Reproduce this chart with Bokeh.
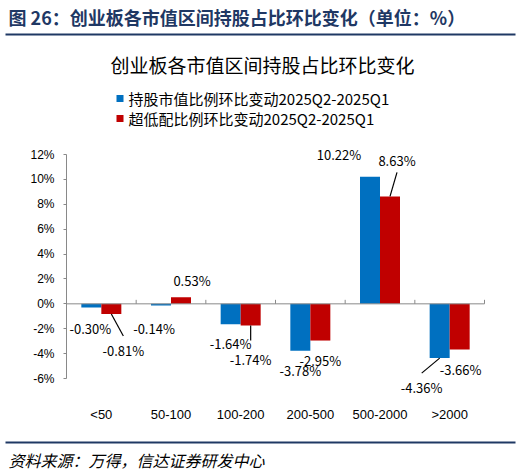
from bokeh.plotting import figure
from bokeh.models import ColumnDataSource, LabelSet, FixedTicker, Range1d
from bokeh.core.properties import value
from bokeh.embed import file_html
from bokeh.resources import INLINE

categories = ["<50", "50-100", "100-200", "200-500", "500-2000", ">2000"]
hold_change = [-0.30, -0.14, -1.64, -3.78, 10.22, -4.36]
under_change = [-0.81, 0.53, -1.74, -2.95, 8.63, -3.66]
y_ticks = [-6, -4, -2, 0, 2, 4, 6, 8, 10, 12]

series_names = ["持股市值比例环比变动2025Q2-2025Q1", "超低配比例环比变动2025Q2-2025Q1"]
header = "图 26：创业板各市值区间持股占比环比变化（单位：%）"
chart_title = "创业板各市值区间持股占比环比变化"
source_note = "资料来源：万得，信达证券研发中心"

BLUE = "#0070C0"
RED = "#C00000"
NAVY = "#1F3864"
GRAY = "#898989"
CJK = "Noto Sans CJK SC"

# canvas and plot-area geometry (pixels)
W, H = 521, 473
AX_L, AX_T, AX_W, AX_H = 66, 154, 418, 224   # x 0..6, y -6..12
PX_X = AX_W / 6
PX_Y = AX_H / 18


def dx(sx):
    return (sx - AX_L) / PX_X


def dy(sy):
    return 12 - (sy - AX_T) / PX_Y


bar_w = 20 / PX_X
centers = [i + 0.5 for i in range(len(categories))]
blue_x = [c - bar_w / 2 for c in centers]
red_x = [c + bar_w / 2 for c in centers]

# label offsets (px) from bar tip
blue_off = [(-1, -21), (-7, -23), (0, -19), (0, -20), (-31, 22), (-18, -29)]
red_off = [(12, -37), (11, 17), (0, -34), (0, -20), (7, 36), (1, -20)]

p = figure(width=W, height=H, min_border=0,
           x_range=Range1d(dx(0), dx(W)), y_range=Range1d(dy(H), dy(0)),
           output_backend="svg", toolbar_location=None)
p.outline_line_color = None
p.grid.visible = False

p.vbar(x=blue_x, top=hold_change, width=bar_w, fill_color=BLUE, line_color=None)
p.vbar(x=red_x, top=under_change, width=bar_w, fill_color=RED, line_color=None)

# zero line with category dividers
p.segment(x0=[0], y0=[0], x1=[6], y1=[0], line_color=GRAY, line_width=1)
p.segment(x0=list(range(7)), y0=[0] * 7, x1=list(range(7)), y1=[4 / PX_Y] * 7,
          line_color=GRAY, line_width=1)

p.xaxis.fixed_location = dy(402)
p.xaxis.ticker = FixedTicker(ticks=centers)
p.xaxis.major_label_overrides = {c: n for c, n in zip(centers, categories)}
p.xaxis.axis_line_color = None
p.xaxis.major_tick_line_color = None
p.xaxis.major_tick_out = 0
p.xaxis.minor_tick_line_color = None
p.xaxis.major_label_standoff = 4
p.xaxis.major_label_text_font = "Liberation Sans"
p.xaxis.major_label_text_font_size = "13px"
p.xaxis.major_label_text_color = "#000000"

p.yaxis.fixed_location = 0
p.yaxis.ticker = FixedTicker(ticks=y_ticks)
p.yaxis.bounds = (-6, 12)
p.yaxis.major_label_overrides = {t: f"{t}%" for t in y_ticks}
p.yaxis.axis_line_color = GRAY
p.yaxis.major_tick_line_color = GRAY
p.yaxis.major_tick_out = 3
p.yaxis.major_tick_in = 0
p.yaxis.minor_tick_line_color = None
p.yaxis.major_label_standoff = 9
p.yaxis.major_label_text_font = "Liberation Sans"
p.yaxis.major_label_text_font_size = "12px"
p.yaxis.major_label_text_color = "#000000"

# data labels
for xs, vals, offs in ((blue_x, hold_change, blue_off), (red_x, under_change, red_off)):
    src = ColumnDataSource(dict(x=xs, y=vals, t=[f"{v:.2f}%" for v in vals],
                                ox=[o[0] for o in offs], oy=[o[1] for o in offs]))
    p.add_layout(LabelSet(x="x", y="y", text="t", source=src, x_offset="ox", y_offset="oy",
                          text_align="center", text_baseline="middle",
                          text_font=value(CJK), text_font_size="13px", text_color="#000000"))

# leader lines (bar tip -> label)
leaders = [(red_x[0], under_change[0], 12, -22), (red_x[2], under_change[2], 0, -15),
           (red_x[4], under_change[4], 7, 24), (blue_x[5], hold_change[5], -18, -15)]
p.segment(x0=[l[0] for l in leaders], y0=[l[1] for l in leaders],
          x1=[l[0] + l[2] / PX_X for l in leaders], y1=[l[1] + l[3] / PX_Y for l in leaders],
          line_color="#000000", line_width=1.2)

# header, title, legend
p.text(x=[dx(8)], y=[dy(16)], text=[header], text_font=value(CJK), text_font_size="18px",
       text_font_style="bold", text_color=NAVY, text_baseline="middle")
p.segment(x0=[dx(5)], y0=[dy(34)], x1=[dx(515)], y1=[dy(34)], line_color=NAVY, line_width=2)
p.text(x=[dx(262)], y=[dy(64)], text=[chart_title], text_font=value(CJK), text_font_size="19px",
       text_color="#000000", text_align="center", text_baseline="middle")
p.scatter(x=[dx(119.5)] * 2, y=[dy(98), dy(118)], marker="square", size=7,
          fill_color=[BLUE, RED], line_color=None)
p.text(x=[dx(128)] * 2, y=[dy(98), dy(118)], text=series_names, text_font=value(CJK),
       text_font_size="15px", text_color="#000000", text_baseline="middle")

# footer
p.segment(x0=[dx(5)], y0=[dy(442)], x1=[dx(515)], y1=[dy(442)], line_color=NAVY, line_width=2)
p.text(x=[dx(8)], y=[dy(459)], text=[source_note], text_font=value(CJK), text_font_size="16px",
       text_font_style="italic", text_color="#000000", text_baseline="middle")

open("out.html", "w").write(file_html(p, INLINE))
